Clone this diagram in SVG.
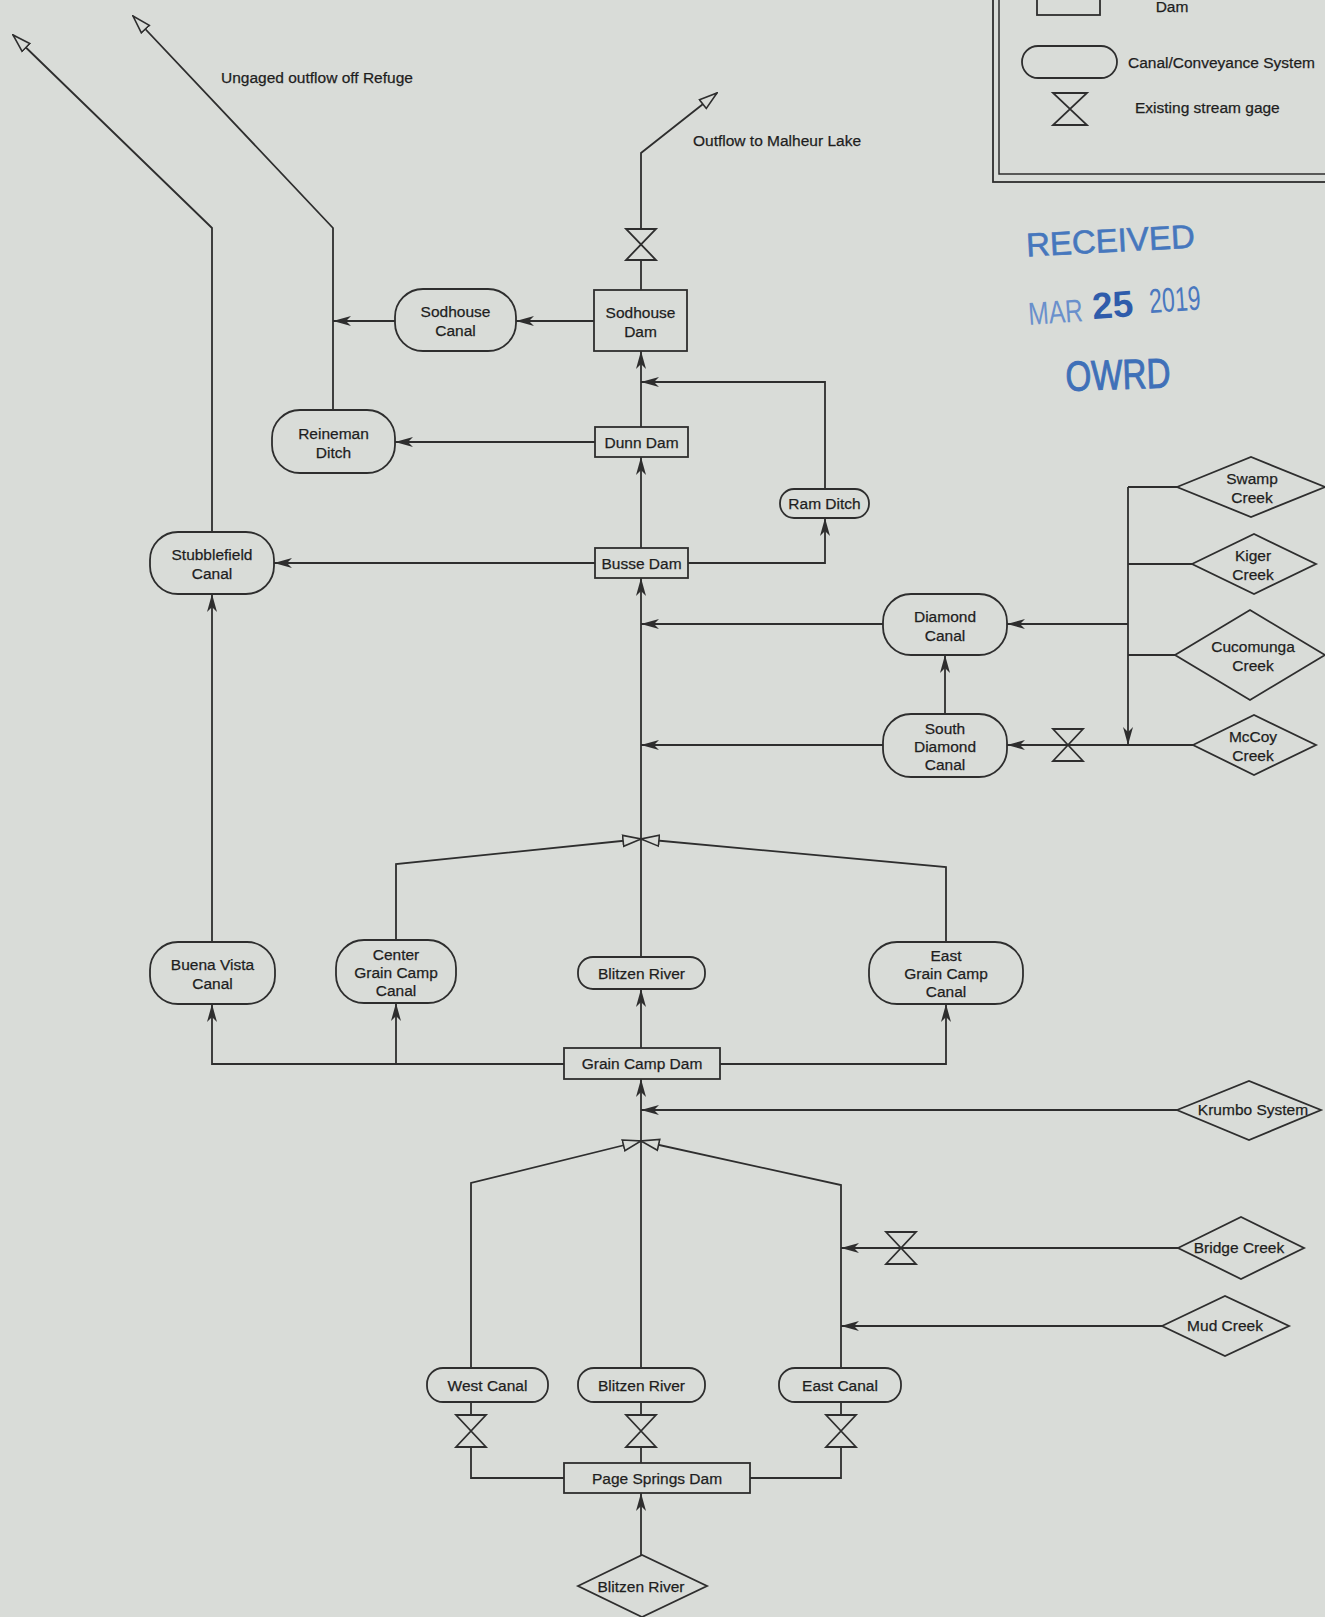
<svg xmlns="http://www.w3.org/2000/svg" width="1325" height="1617" viewBox="0 0 1325 1617">
<defs>
<style>
.bg{fill:#d9dcd8}
.c{fill:none;stroke:#2e2e2e;stroke-width:1.8}
.n rect,.n path{fill:#d9dcd8;stroke:#2e2e2e;stroke-width:1.8}
text{font-family:"Liberation Sans",Arial,sans-serif;font-size:15.5px;fill:#1e1e1e;stroke:#1e1e1e;stroke-width:0.25;text-anchor:middle}
.lbl{text-anchor:start}
.st{text-anchor:start;stroke:none}
</style>
<marker id="a" viewBox="0 0 18 10" refX="18" refY="5" markerWidth="18" markerHeight="10" markerUnits="userSpaceOnUse" orient="auto"><path d="M0,0 L18,5 L0,10 L5,5 Z" fill="#2e2e2e"/></marker>
<marker id="h" viewBox="0 0 20 14" refX="19" refY="7" markerWidth="20" markerHeight="14" markerUnits="userSpaceOnUse" orient="auto"><path d="M1,1.5 L19,7 L1,12.5 Z" fill="#d9dcd8" stroke="#2e2e2e" stroke-width="1.6"/></marker>
</defs>
<rect class="bg" x="0" y="0" width="1325" height="1617"/>

<g id="legend">
<rect x="993" y="-5" width="400" height="187" fill="none" stroke="#2e2e2e" stroke-width="1.8"/>
<rect x="999" y="-5" width="400" height="179" fill="none" stroke="#2e2e2e" stroke-width="1.5"/>
<rect x="1037" y="-10" width="63" height="25" fill="none" stroke="#2e2e2e" stroke-width="1.8"/>
<text x="1172" y="12">Dam</text>
<rect x="1022" y="46" width="95" height="32" rx="16" fill="none" stroke="#2e2e2e" stroke-width="1.8"/>
<text class="lbl" x="1128" y="68">Canal/Conveyance System</text>
<path d="M1053,93 H1087 L1053,125 H1087 Z" fill="none" stroke="#2e2e2e" stroke-width="1.8"/>
<text class="lbl" x="1135" y="113">Existing stream gage</text>
</g>

<g id="stamp">
<text class="st" x="1026" y="252" transform="rotate(-3 1110 240)" style="font-size:33px;fill:#4677bd;stroke:#4677bd;stroke-width:0.6">RECEIVED</text>
<text class="st" x="0" y="0" transform="translate(1029 325) rotate(-4) scale(0.77 1)" style="font-size:32px;fill:#6a90cc">MAR</text>
<text class="st" x="0" y="0" transform="translate(1093 319) rotate(-4)" style="font-size:37px;font-weight:bold;fill:#2f5cab">25</text>
<text class="st" x="0" y="0" transform="translate(1150 313) rotate(-4) scale(0.68 1)" style="font-size:34px;fill:#4a78bf">2019</text>
<text class="st" x="0" y="0" transform="translate(1066 391) rotate(-2) scale(0.79 1)" style="font-size:42px;fill:#3f70b8;stroke:#3f70b8;stroke-width:1">OWRD</text>
</g>

<g id="labels">
<text class="lbl" x="221" y="83">Ungaged outflow off Refuge</text>
<text class="lbl" x="693" y="146">Outflow to Malheur Lake</text>
</g>

<g id="connectors">
<path class="c" d="M212,532 V228 L13,35" marker-end="url(#h)"/>
<path class="c" d="M333,410 V228 L133,16" marker-end="url(#h)"/>
<path class="c" d="M641,290 V153 L717,93" marker-end="url(#h)"/>
<path class="c" d="M594,321 H516" marker-end="url(#a)"/>
<path class="c" d="M395,321 H333" marker-end="url(#a)"/>
<path class="c" d="M595,442 H395" marker-end="url(#a)"/>
<path class="c" d="M641,427 V351" marker-end="url(#a)"/>
<path class="c" d="M825,489 V382 H641" marker-end="url(#a)"/>
<path class="c" d="M688,563 H825 V518" marker-end="url(#a)"/>
<path class="c" d="M595,563 H274" marker-end="url(#a)"/>
<path class="c" d="M641,548 V457" marker-end="url(#a)"/>
<path class="c" d="M641,957 V578" marker-end="url(#a)"/>
<path class="c" d="M883,624 H641" marker-end="url(#a)"/>
<path class="c" d="M883,745 H641" marker-end="url(#a)"/>
<path class="c" d="M945,714 V655" marker-end="url(#a)"/>
<path class="c" d="M1128,487 V745" marker-end="url(#a)"/>
<path class="c" d="M1177,487 H1128 M1192,564 H1128 M1175,655 H1128"/>
<path class="c" d="M1128,624 H1007" marker-end="url(#a)"/>
<path class="c" d="M1193,745 H1007" marker-end="url(#a)"/>
<path class="c" d="M396,940 V864 L641,839" marker-end="url(#h)"/>
<path class="c" d="M946,942 V867 L641,839" marker-end="url(#h)"/>
<path class="c" d="M212,942 V594" marker-end="url(#a)"/>
<path class="c" d="M564,1064 H212 V1004" marker-end="url(#a)"/>
<path class="c" d="M396,1064 V1003" marker-end="url(#a)"/>
<path class="c" d="M720,1064 H946 V1004" marker-end="url(#a)"/>
<path class="c" d="M641,1048 V989" marker-end="url(#a)"/>
<path class="c" d="M1177,1110 H641" marker-end="url(#a)"/>
<path class="c" d="M641,1368 V1079" marker-end="url(#a)"/>
<path class="c" d="M471,1368 V1183 L641,1141" marker-end="url(#h)"/>
<path class="c" d="M841,1368 V1185 L641,1141" marker-end="url(#h)"/>
<path class="c" d="M1178,1248 H841" marker-end="url(#a)"/>
<path class="c" d="M1162,1326 H841" marker-end="url(#a)"/>
<path class="c" d="M564,1478 H471 V1402 M750,1478 H841 V1402 M641,1463 V1402"/>
<path class="c" d="M641,1555 V1493" marker-end="url(#a)"/>
</g>

<g id="gage-sodhouse" class="n"><path d="M626,229 H656 L626,260 H656 Z"/></g>
<g id="gage-mccoy" class="n"><path d="M1053,729 H1083 L1053,761 H1083 Z"/></g>
<g id="gage-bridge" class="n"><path d="M886,1232 H916 L886,1264 H916 Z"/></g>
<g id="gage-west" class="n"><path d="M456,1415 H486 L456,1447 H486 Z"/></g>
<g id="gage-blitzen" class="n"><path d="M626,1415 H656 L626,1447 H656 Z"/></g>
<g id="gage-east" class="n"><path d="M826,1415 H856 L826,1447 H856 Z"/></g>

<g id="sodhouse-dam" class="n"><rect x="594" y="290" width="93" height="61"/><text x="640.5" y="317.5">Sodhouse</text><text x="640.5" y="336.5">Dam</text></g>
<g id="sodhouse-canal" class="n"><rect x="395" y="289" width="121" height="62" rx="28"/><text x="455.5" y="317">Sodhouse</text><text x="455.5" y="336">Canal</text></g>
<g id="reineman-ditch" class="n"><rect x="272" y="410" width="123" height="63" rx="28"/><text x="333.5" y="438.5">Reineman</text><text x="333.5" y="457.5">Ditch</text></g>
<g id="dunn-dam" class="n"><rect x="595" y="427" width="93" height="30"/><text x="641.5" y="447.5">Dunn Dam</text></g>
<g id="ram-ditch" class="n"><rect x="780" y="489" width="89" height="29" rx="14"/><text x="824.5" y="509">Ram Ditch</text></g>
<g id="busse-dam" class="n"><rect x="595" y="548" width="93" height="30"/><text x="641.5" y="568.5">Busse Dam</text></g>
<g id="stubblefield-canal" class="n"><rect x="150" y="532" width="124" height="62" rx="28"/><text x="212" y="560">Stubblefield</text><text x="212" y="579">Canal</text></g>
<g id="diamond-canal" class="n"><rect x="883" y="594" width="124" height="61" rx="28"/><text x="945" y="621.5">Diamond</text><text x="945" y="640.5">Canal</text></g>
<g id="south-diamond-canal" class="n"><rect x="883" y="714" width="124" height="63" rx="28"/><text x="945" y="733.5">South</text><text x="945" y="751.5">Diamond</text><text x="945" y="769.5">Canal</text></g>
<g id="swamp-creek" class="n"><path d="M1177,487 L1251,457 L1325,487 L1251,517 Z"/><text x="1252" y="484">Swamp</text><text x="1252" y="503">Creek</text></g>
<g id="kiger-creek" class="n"><path d="M1192,564 L1254,534 L1316,564 L1254,594 Z"/><text x="1253" y="561">Kiger</text><text x="1253" y="580">Creek</text></g>
<g id="cucomunga-creek" class="n"><path d="M1175,655 L1250,610 L1325,655 L1250,700 Z"/><text x="1253" y="652">Cucomunga</text><text x="1253" y="671">Creek</text></g>
<g id="mccoy-creek" class="n"><path d="M1193,745 L1254,715 L1316,745 L1254,775 Z"/><text x="1253" y="742">McCoy</text><text x="1253" y="761">Creek</text></g>
<g id="buena-vista-canal" class="n"><rect x="150" y="942" width="125" height="62" rx="28"/><text x="212.5" y="970">Buena Vista</text><text x="212.5" y="989">Canal</text></g>
<g id="center-grain-camp-canal" class="n"><rect x="336" y="940" width="120" height="63" rx="28"/><text x="396" y="960">Center</text><text x="396" y="978">Grain Camp</text><text x="396" y="996">Canal</text></g>
<g id="blitzen-river-upper" class="n"><rect x="578" y="957" width="127" height="32" rx="15"/><text x="641.5" y="978.5">Blitzen River</text></g>
<g id="east-grain-camp-canal" class="n"><rect x="869" y="942" width="154" height="62" rx="28"/><text x="946" y="961">East</text><text x="946" y="979">Grain Camp</text><text x="946" y="997">Canal</text></g>
<g id="grain-camp-dam" class="n"><rect x="564" y="1048" width="156" height="31"/><text x="642" y="1069">Grain Camp Dam</text></g>
<g id="krumbo-system" class="n"><path d="M1177,1110 L1249,1081 L1321,1110 L1249,1140 Z"/><text x="1253" y="1115">Krumbo System</text></g>
<g id="bridge-creek" class="n"><path d="M1178,1248 L1241,1217 L1304,1248 L1241,1279 Z"/><text x="1239" y="1253">Bridge Creek</text></g>
<g id="mud-creek" class="n"><path d="M1162,1326 L1225,1296 L1289,1326 L1225,1356 Z"/><text x="1225" y="1331">Mud Creek</text></g>
<g id="west-canal" class="n"><rect x="427" y="1368" width="121" height="34" rx="16"/><text x="487.5" y="1390.5">West Canal</text></g>
<g id="blitzen-river-lower" class="n"><rect x="578" y="1368" width="127" height="34" rx="16"/><text x="641.5" y="1390.5">Blitzen River</text></g>
<g id="east-canal" class="n"><rect x="779" y="1368" width="122" height="34" rx="16"/><text x="840" y="1390.5">East Canal</text></g>
<g id="page-springs-dam" class="n"><rect x="564" y="1463" width="186" height="30"/><text x="657" y="1483.5">Page Springs Dam</text></g>
<g id="blitzen-river-source" class="n"><path d="M578,1586 L642,1555 L707,1586 L642,1617 Z"/><text x="641" y="1591.5">Blitzen River</text></g>
</svg>
